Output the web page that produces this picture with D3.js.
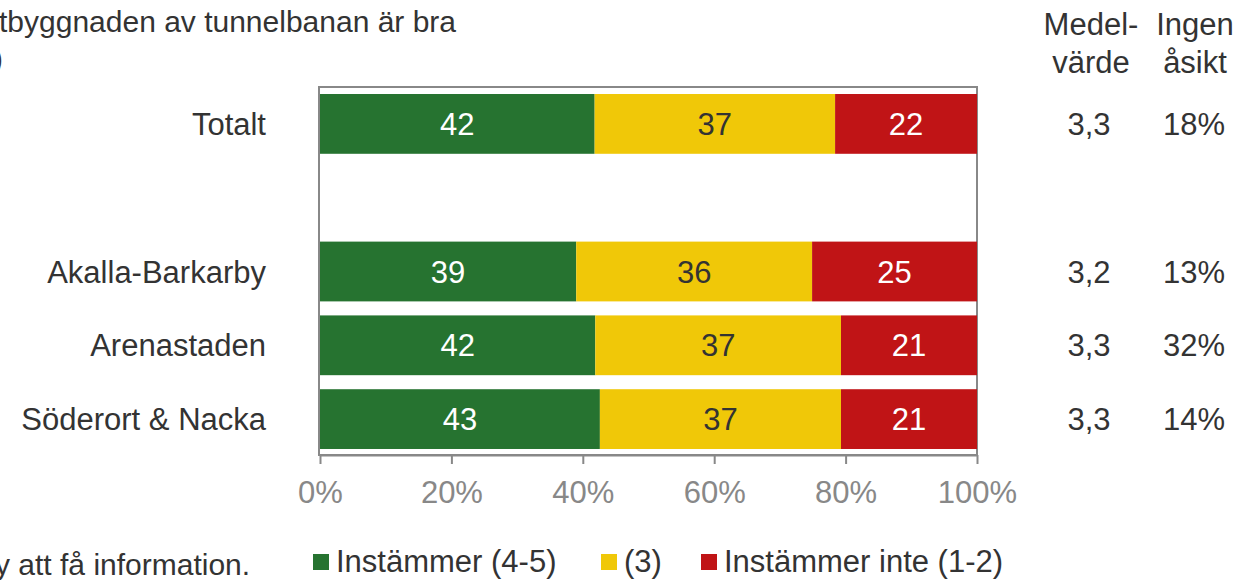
<!DOCTYPE html>
<html>
<head>
<meta charset="utf-8">
<script src="https://cdn.jsdelivr.net/npm/d3@7"></script>
<style>
  html, body { margin: 0; padding: 0; background: #fff; }
  svg { display: block; }
  text { font-family: "Liberation Sans", Arial, sans-serif; }
</style>
</head>
<body>
<svg id="chart" width="1247" height="580"></svg>
<script>
// ---- data ----
const categories = ["Totalt", "Akalla-Barkarby", "Arenastaden", "Söderort & Nacka"];
const agree    = [41.8, 39.0, 41.9, 42.6];   // Instämmer (4-5)
const neutral  = [36.6, 35.9, 37.4, 36.7];   // (3)
const disagree = [21.6, 25.1, 20.7, 20.7];   // Instämmer inte (1-2)
const meanValues = ["3,3", "3,2", "3,3", "3,3"];
const noOpinion = [18, 13, 32, 14];
const seriesNames = ["Instämmer (4-5)", "(3)", "Instämmer inte (1-2)"];
const tickValues = [0, 20, 40, 60, 80, 100];
const titleLines = ["tbyggnaden av tunnelbanan är bra", ")"];
const footnote = "y att få information.";
const colHeaders = [["Medel-", "värde"], ["Ingen", "åsikt"]];

// ---- layout ----
const colors = ["#267330", "#f0c808", "#c01416"];
const labelColors = ["#ffffff", "#333333", "#ffffff"];
const textColor = "#333333";
const axisColor = "#888888";
const fs = 31;

const svg = d3.select("#chart");
const GAP = "__gap__";
const domain = [categories[0], GAP, ...categories.slice(1)];

const x = d3.scaleLinear().domain([0, 100]).range([320, 977]);
const y = d3.scaleBand().domain(domain).range([87, 456])
  .paddingInner(0.19).paddingOuter(0.095);

const rows = categories.map((c, i) => ({
  cat: c, vals: [agree[i], neutral[i], disagree[i]],
  mean: meanValues[i], none: noOpinion[i]
}));

// plot-area border
svg.append("rect")
  .attr("x", 319).attr("y", 87)
  .attr("width", 977 - 319).attr("height", 455 - 87)
  .attr("fill", "none").attr("stroke", axisColor).attr("stroke-width", 2);

// stacked bars
rows.forEach(r => {
  let acc = 0;
  const g = svg.append("g");
  r.vals.forEach((v, k) => {
    const x0 = x(acc), x1 = x(acc + v);
    g.append("rect")
      .attr("x", x0).attr("y", y(r.cat))
      .attr("width", x1 - x0).attr("height", y.bandwidth())
      .attr("fill", colors[k]);
    g.append("text")
      .attr("x", (x0 + x1) / 2)
      .attr("y", y(r.cat) + y.bandwidth() / 2 + 11)
      .attr("text-anchor", "middle")
      .attr("font-size", fs)
      .attr("fill", labelColors[k])
      .text(Math.round(v));
    acc += v;
  });
  // category label
  svg.append("text")
    .attr("x", 266).attr("y", y(r.cat) + y.bandwidth() / 2 + 11)
    .attr("text-anchor", "end").attr("font-size", fs).attr("fill", textColor)
    .text(r.cat);
  // mean value
  svg.append("text")
    .attr("x", 1089).attr("y", y(r.cat) + y.bandwidth() / 2 + 11)
    .attr("text-anchor", "middle").attr("font-size", fs).attr("fill", textColor)
    .text(r.mean);
  // no opinion
  svg.append("text")
    .attr("x", 1194).attr("y", y(r.cat) + y.bandwidth() / 2 + 11)
    .attr("text-anchor", "middle").attr("font-size", fs).attr("fill", textColor)
    .text(r.none + "%");
});

// x axis
const axis = d3.axisBottom(x).tickValues(tickValues).tickSize(9).tickSizeOuter(0)
  .tickFormat(d => d + "%");
const ag = svg.append("g").attr("transform", "translate(0,455)").call(axis);
ag.select(".domain").attr("stroke", axisColor).attr("stroke-width", 2);
ag.selectAll(".tick line").attr("stroke", axisColor).attr("stroke-width", 2);
ag.selectAll(".tick text")
  .attr("y", 48).attr("dy", null)
  .attr("font-size", fs).attr("font-family", "Liberation Sans, Arial, sans-serif")
  .attr("fill", axisColor);

// column headers
colHeaders.forEach((lines, i) => {
  const cx = i === 0 ? 1091 : 1195;
  lines.forEach((t, j) => {
    svg.append("text")
      .attr("x", cx).attr("y", 35 + j * 38)
      .attr("text-anchor", "middle").attr("font-size", fs).attr("fill", textColor)
      .text(t);
  });
});

// title (clipped at left edge)
svg.append("text").attr("x", -1).attr("y", 32)
  .attr("font-size", 30).attr("fill", textColor).text(titleLines[0]);
svg.append("text").attr("x", 3).attr("y", 69).attr("text-anchor", "end")
  .attr("font-size", 30).attr("fill", textColor).text(titleLines[1]);

// footnote
svg.append("text").attr("x", -5).attr("y", 575)
  .attr("font-size", 30).attr("fill", textColor).text(footnote);

// legend
const legendX = [313, 601, 701];
seriesNames.forEach((name, k) => {
  svg.append("rect")
    .attr("x", legendX[k]).attr("y", 554)
    .attr("width", 16).attr("height", 16)
    .attr("fill", colors[k]);
  svg.append("text")
    .attr("x", legendX[k] + 23).attr("y", 572)
    .attr("font-size", fs).attr("fill", textColor)
    .text(name);
});
</script>
</body>
</html>
